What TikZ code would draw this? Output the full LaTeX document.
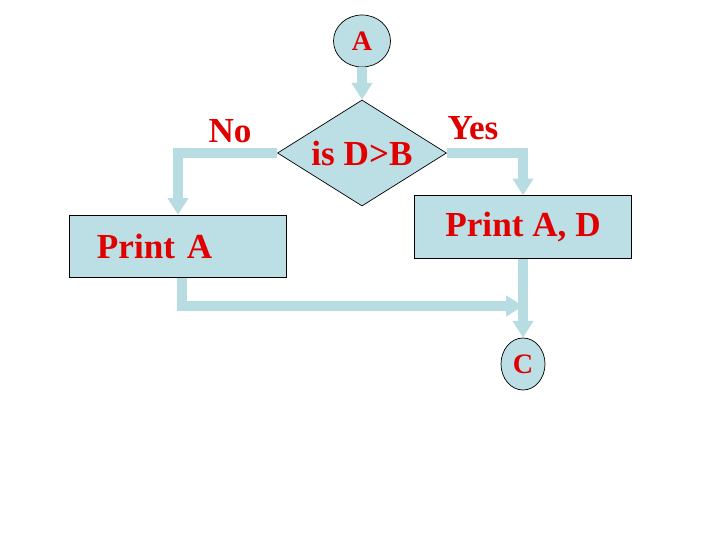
\documentclass[tikz,border=0pt]{standalone}
\usepackage{fontspec}
\setmainfont{Liberation Serif}
\usetikzlibrary{shapes.geometric,arrows.meta}
\definecolor{flowfill}{RGB}{187,223,228}
\definecolor{flowline}{RGB}{183,221,227}
\definecolor{flowred}{RGB}{224,0,0}
\begin{document}
\begin{tikzpicture}[x=0.025cm, y=-0.025cm,
    box/.style={draw, rectangle, fill=flowfill, line width=0.7pt, minimum width=5.4cm, minimum height=1.56cm, text=flowred, font=\fontsize{25}{28}\selectfont\bfseries},
    conn/.style={draw, ellipse, fill=flowfill, line width=0.5pt, inner sep=0pt, text=flowred, font=\fontsize{20}{22}\selectfont\bfseries},
    lbl/.style={text=flowred, font=\fontsize{25}{28}\selectfont\bfseries},
    flow/.style={draw=flowline, line width=0.25cm, -{Triangle[width=0.5cm,length=0.42cm]}}]

    \fill[white] (0,0) rectangle (720,540);
    \useasboundingbox (0,0) rectangle (720,540);

    \node[conn, minimum width=1.425cm, minimum height=1.3cm] (A) at (362,41) {A};
    \node[draw, diamond, fill=flowfill, line width=0.5pt, minimum width=4.225cm, minimum height=2.65cm, label={[lbl]center:is D>B}] (test) at (362,153) {};
    \node[lbl] (no) at (230,131) {No};
    \node[lbl] (yes) at (473,128) {Yes};
    \node[box, text width=4.05cm, inner xsep=0.675cm, align=left] (printa) at (178,246.5) {Print A};
    \node[box] (printad) at (523,227) {Print A, D};
    \node[conn, minimum width=1.1cm, minimum height=1.3cm] (C) at (523,364) {C};
    \coordinate (join) at (523,306);

    \draw[flow] (A) -- (test);
    \draw[flow] (test.west) -| (printa.north);
    \draw[flow] (test.east) -| (printad.north);
    \draw[flow] ([xshift=0.1cm]printa.south) |- (join);
    \draw[flow] (printad) -- (C);
\end{tikzpicture}
\end{document}
